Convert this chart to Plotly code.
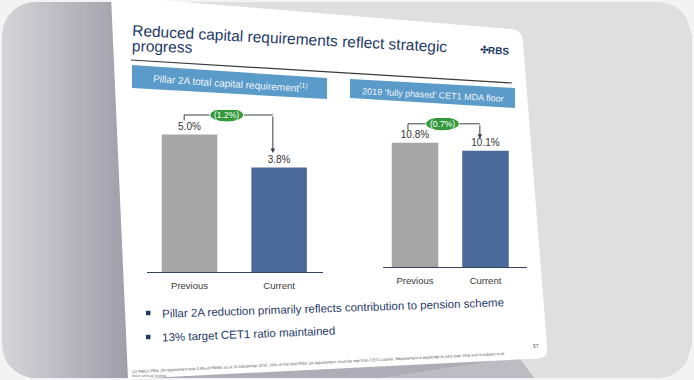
import math
import plotly.graph_objects as go

# ---------------- data ----------------
categories = ["Previous", "Current"]
pillar2a_values = [5.0, 3.8]          # Pillar 2A total capital requirement (%)
mda_floor_values = [10.8, 10.1]       # 2019 fully phased CET1 MDA floor (%)
panel_titles = ["Pillar 2A total capital requirement<sup>(1)</sup>",
                "2019 \u2018fully phased\u2019 CET1 MDA floor"]
title_lines = ["Reduced capital requirements reflect strategic", "progress"]
bullets = ["Pillar 2A reduction primarily reflects contribution to pension scheme",
           "13% target CET1 ratio maintained"]
footnote = ("(1) RBS\u2019s Pillar 2A requirement was 3.8% of RWAs as at 31 December 2016. 56% of the total "
            "Pillar 2A requirement, must be met from CET1 capital. Requirement is expected to vary over time "
            "and is subject to at")
footnote2 = "least annual review."
page_no = "57"

# ---------------- helpers ----------------
W, H = 694, 380
FONT = "Liberation Sans, Arial, sans-serif"
NAVY = "#1f3a68"
GREY_BAR = "#a6a6a6"
BLUE_BAR = "#4b6a9b"
GREEN = "#34993b"


def X(px):
    return px / W


def Y(py):
    return 1 - py / H


def poly_path(points):
    return "M " + " L ".join(f"{X(x):.5f},{Y(y):.5f}" for x, y in points) + " Z"


def rounded_poly_path(points, radii):
    n = len(points)
    segs = []
    for i in range(n):
        v = points[i]
        r = radii[i]
        if r == 0:
            segs.append(("L", v))
            continue
        p = points[i - 1]
        q = points[(i + 1) % n]
        dp = math.hypot(p[0] - v[0], p[1] - v[1])
        dq = math.hypot(q[0] - v[0], q[1] - v[1])
        pin = (v[0] + (p[0] - v[0]) * r / dp, v[1] + (p[1] - v[1]) * r / dp)
        pout = (v[0] + (q[0] - v[0]) * r / dq, v[1] + (q[1] - v[1]) * r / dq)
        segs.append(("L", pin))
        segs.append(("Q", v, pout))
    out = []
    for k, s in enumerate(segs):
        if s[0] == "L":
            cmd = "M" if k == 0 else "L"
            out.append(f"{cmd} {X(s[1][0]):.5f},{Y(s[1][1]):.5f}")
        else:
            out.append(f"Q {X(s[1][0]):.5f},{Y(s[1][1]):.5f} {X(s[2][0]):.5f},{Y(s[2][1]):.5f}")
    return " ".join(out) + " Z"


FX0, FX1, FY0, FY1, FR = 2, 692, 2, 378, 34


def frame_bounds(x):
    off = 0.0
    if x < FX0 + FR:
        dx = FX0 + FR - x
        off = FR - math.sqrt(max(FR * FR - dx * dx, 0))
    elif x > FX1 - FR:
        dx = x - (FX1 - FR)
        off = FR - math.sqrt(max(FR * FR - dx * dx, 0))
    return FY0 + off, FY1 - off


def frame_strip(xa, xb, steps=6):
    xs = [xa + (xb - xa) * k / steps for k in range(steps + 1)]
    top = [(x, frame_bounds(x)[0]) for x in xs]
    bot = [(x, frame_bounds(x)[1]) for x in reversed(xs)]
    return poly_path(top + bot)


shapes = []
annotations = []

# ---------------- background ----------------
shapes.append(dict(type="path", xref="paper", yref="paper", layer="below",
                   path=frame_strip(FX0, FX1, 120), fillcolor="#dfdfdf", line=dict(width=0)))
c0 = (212, 212, 215)
c1 = (158, 156, 168)
x_start, x_end, nstrip = FX0, 135, 24
for i in range(nstrip):
    xa = x_start + (x_end - x_start) * i / nstrip
    xb = x_start + (x_end - x_start) * (i + 1) / nstrip + 0.6
    t = i / (nstrip - 1)
    col = tuple(round(c0[k] + (c1[k] - c0[k]) * t) for k in range(3))
    shapes.append(dict(type="path", xref="paper", yref="paper", layer="below",
                       path=frame_strip(xa, xb), fillcolor=f"rgb{col}", line=dict(width=0)))
# shadow under slide
shapes.append(dict(type="path", xref="paper", yref="paper", layer="below",
                   path=poly_path([(120, 378), (300, 366), (518, 357), (534, 378)]),
                   fillcolor="#aeacb6", line=dict(width=0)))
shapes.append(dict(type="path", xref="paper", yref="paper", layer="below",
                   path=poly_path([(380, 378), (518, 357), (534, 378)]),
                   fillcolor="#bdbcc3", line=dict(width=0)))
# slide
shapes.append(dict(type="path", xref="paper", yref="paper", layer="below",
                   path=rounded_poly_path([(111, -4), (522, 30), (548, 358), (128, 379)], [0, 10, 10, 0]),
                   fillcolor="#ffffff", line=dict(width=0)))

# ---------------- slide furniture ----------------
annotations.append(dict(xref="paper", yref="paper", x=X(130), y=Y(39), xanchor="left", yanchor="middle",
                        text=title_lines[0], showarrow=False, textangle=3,
                        font=dict(family=FONT, size=15.5, color=NAVY)))
annotations.append(dict(xref="paper", yref="paper", x=X(130), y=Y(46), xanchor="left", yanchor="middle",
                        text=title_lines[1], showarrow=False, textangle=1.5,
                        font=dict(family=FONT, size=15.5, color=NAVY)))
annotations.append(dict(xref="paper", yref="paper", x=X(494), y=Y(51), xanchor="center", yanchor="middle",
                        text="<b>\u2723RBS</b>", showarrow=False, textangle=3,
                        font=dict(family=FONT, size=10, color=NAVY)))
shapes.append(dict(type="line", xref="paper", yref="paper", x0=X(131), y0=Y(60), x1=X(512), y1=Y(83),
                   line=dict(color="#3a3a3a", width=1.2)))

# panel header boxes
headers = [
    dict(pts=[(132, 65), (327, 78), (327, 99), (132, 88)], c=(230, 83), ang=3.8, size=10),
    dict(pts=[(350, 79), (515, 88), (515, 108), (350, 98)], c=(433, 94.5), ang=3.1, size=9),
]
for hdr, txt in zip(headers, panel_titles):
    shapes.append(dict(type="path", xref="paper", yref="paper", path=poly_path(hdr["pts"]),
                       fillcolor="#5b9bc9", line=dict(width=0)))
    annotations.append(dict(xref="paper", yref="paper", x=X(hdr["c"][0]), y=Y(hdr["c"][1]),
                            xanchor="center", yanchor="middle", text=txt, showarrow=False,
                            textangle=hdr["ang"],
                            font=dict(family=FONT, size=hdr["size"], color="#eef4fa")))

# bullets
bullet_pos = [(160, 307.5, -1.9, 313), (160, 333.5, -2.3, 337)]
for (bx, by, ang, sq_y), txt in zip(bullet_pos, bullets):
    shapes.append(dict(type="rect", xref="paper", yref="paper", x0=X(146), x1=X(150.5),
                       y0=Y(sq_y + 2.2), y1=Y(sq_y - 2.2), fillcolor=NAVY, line=dict(width=0)))
    annotations.append(dict(xref="paper", yref="paper", x=X(bx), y=Y(by), xanchor="left", yanchor="middle",
                            text=txt, showarrow=False, textangle=ang,
                            font=dict(family=FONT, size=11.5, color=NAVY)))

annotations.append(dict(xref="paper", yref="paper", x=X(130), y=Y(362.5), xanchor="left", yanchor="middle",
                        text=footnote, showarrow=False, textangle=-2.8,
                        font=dict(family=FONT, size=4, color="#555555")))
annotations.append(dict(xref="paper", yref="paper", x=X(130), y=Y(375), xanchor="left", yanchor="middle",
                        text=footnote2, showarrow=False,
                        font=dict(family=FONT, size=4, color="#777777")))
annotations.append(dict(xref="paper", yref="paper", x=X(536), y=Y(346), xanchor="center", yanchor="middle",
                        text=page_no, showarrow=False,
                        font=dict(family=FONT, size=5, color="#555555")))

# ---------------- charts ----------------
fig = go.Figure()
panels = [
    dict(vals=pillar2a_values, xa="x", ya="y", width=0.62),
    dict(vals=mda_floor_values, xa="x2", ya="y2", width=0.66),
]
for p in panels:
    fig.add_trace(go.Bar(x=categories, y=p["vals"], xaxis=p["xa"], yaxis=p["ya"],
                         marker=dict(color=[GREY_BAR, BLUE_BAR], line=dict(width=0)),
                         width=p["width"], text=p["vals"], texttemplate="%{y:.1f}%",
                         textposition="outside", cliponaxis=False,
                         textfont=dict(family=FONT, size=10, color="#333333"),
                         hoverinfo="skip", showlegend=False))

axis_px = {
    "x": dict(dom=(147, 323), rng=(-0.475, 1.49)),
    "x2": dict(dom=(383, 527), rng=(-0.454, 1.589)),
    "y": dict(dom=(272, 110), rng=(0, 162 / 27.5)),
    "y2": dict(dom=(267, 118), rng=(0, 149 / 11.5)),
}


def px_per_unit(ax):
    a = axis_px[ax]
    return abs(a["dom"][0] - a["dom"][1]) / (a["rng"][1] - a["rng"][0])


bridge_geom = [
    dict(xl=-0.06, xr=0.93, start=14, top=19.5, end=14.5),
    dict(xl=-0.10, xr=0.92, start=13, top=19, end=12),
]
for p, g in zip(panels, bridge_geom):
    sy = px_per_unit(p["ya"])
    sx = px_per_unit(p["xa"])
    v0, v1 = p["vals"]
    y_start = v0 + g["start"] / sy
    y_top = max(v0, v1) + g["top"] / sy
    y_end = v1 + g["end"] / sy
    lc = "#3a3f4a"
    shapes.append(dict(type="line", xref=p["xa"], yref=p["ya"], x0=g["xl"], x1=g["xl"],
                       y0=y_start, y1=y_top, line=dict(color=lc, width=1)))
    shapes.append(dict(type="line", xref=p["xa"], yref=p["ya"], x0=g["xl"], x1=g["xr"],
                       y0=y_top, y1=y_top, line=dict(color=lc, width=1)))
    annotations.append(dict(xref=p["xa"], yref=p["ya"], x=g["xr"], y=y_end, ax=g["xr"], ay=y_top,
                            axref=p["xa"], ayref=p["ya"], text="", showarrow=True, arrowhead=2,
                            arrowsize=0.9, arrowwidth=1, arrowcolor=lc, standoff=0))
    xc = (g["xl"] + g["xr"]) / 2 - 0.02
    hw = 17 / sx
    hh = 7 / sy
    shapes.append(dict(type="circle", xref=p["xa"], yref=p["ya"], x0=xc - hw, x1=xc + hw,
                       y0=y_top - hh, y1=y_top + hh, fillcolor=GREEN, line=dict(color="#ffffff", width=1)))
    annotations.append(dict(xref=p["xa"], yref=p["ya"], x=xc, y=y_top, text=f"({v0 - v1:.1f}%)",
                            showarrow=False, xanchor="center", yanchor="middle",
                            font=dict(family=FONT, size=8.5, color="#ffffff")))

layout_axes = {}
for ax in ["x", "x2"]:
    a = axis_px[ax]
    key = "xaxis" if ax == "x" else "xaxis2"
    layout_axes[key] = dict(domain=[X(a["dom"][0]), X(a["dom"][1])], range=list(a["rng"]),
                            anchor="y" if ax == "x" else "y2", type="category",
                            showline=True, linecolor="#34455e", linewidth=1.3, ticks="",
                            showgrid=False, zeroline=False, fixedrange=True, ticklabelstandoff=4,
                            tickfont=dict(family=FONT, size=9.5, color="#3a3a3a"))
for ax in ["y", "y2"]:
    a = axis_px[ax]
    key = "yaxis" if ax == "y" else "yaxis2"
    layout_axes[key] = dict(domain=[Y(a["dom"][0]), Y(a["dom"][1])], range=list(a["rng"]),
                            anchor="x" if ax == "y" else "x2", visible=False, showgrid=False,
                            zeroline=False, fixedrange=True)

fig.update_layout(width=W, height=H, autosize=False, margin=dict(l=0, r=0, t=0, b=0, pad=0),
                  paper_bgcolor="#f3f3f3", plot_bgcolor="rgba(0,0,0,0)", showlegend=False,
                  bargap=0.3, shapes=shapes, annotations=annotations, **layout_axes)

fig.write_html("out.html", config={"displayModeBar": False},
               post_script="document.body.style.margin='0';document.body.style.padding='0';"
                           "document.body.style.overflow='hidden';")
